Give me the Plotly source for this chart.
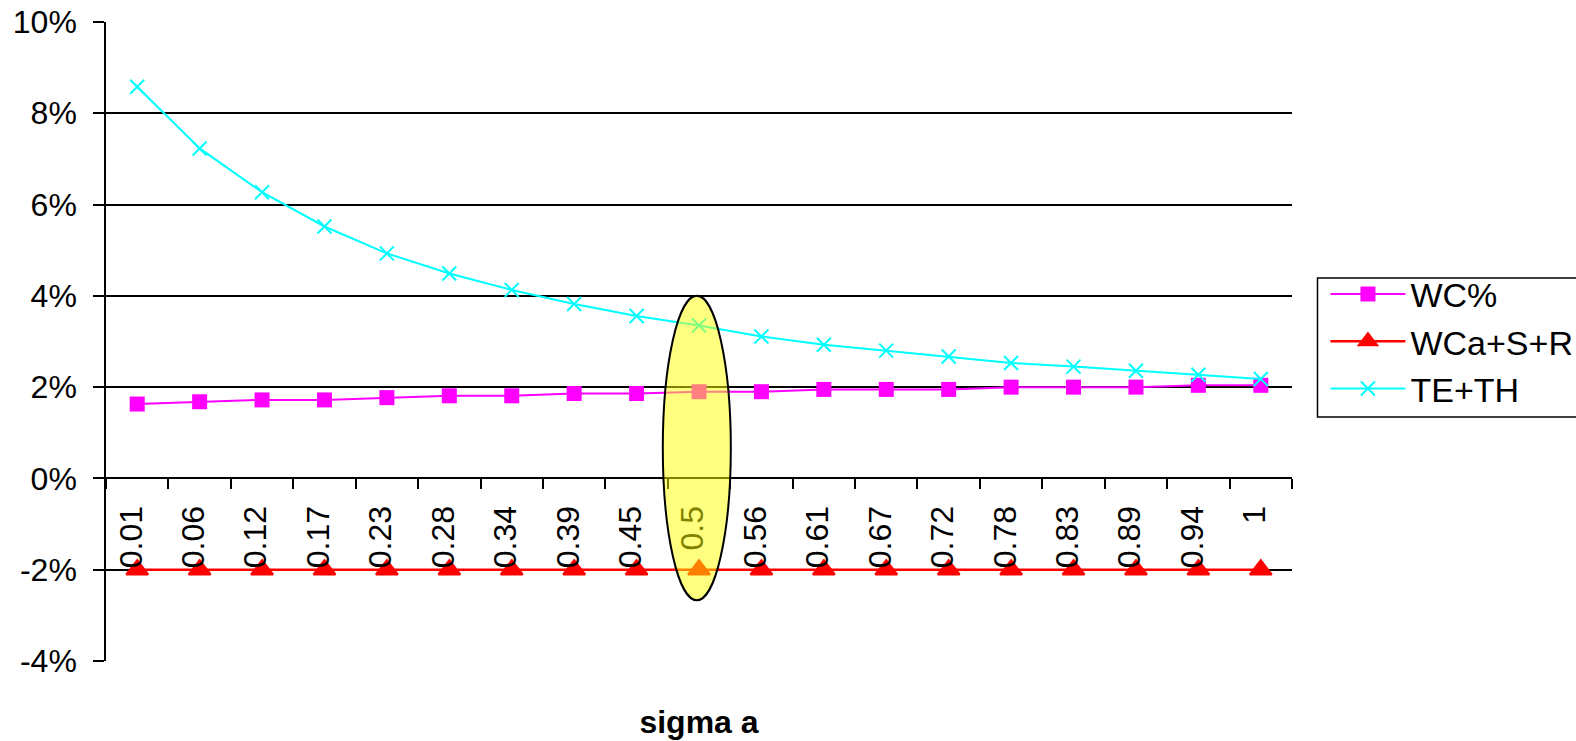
import plotly.graph_objects as go

# sigma a categories along the x axis
sigma_a = ["0.01", "0.06", "0.12", "0.17", "0.23", "0.28", "0.34", "0.39", "0.45", "0.5",
           "0.56", "0.61", "0.67", "0.72", "0.78", "0.83", "0.89", "0.94", "1"]

# series values (fractions, shown as percentages)
wc_pct = [0.0163, 0.0168, 0.0172, 0.0172, 0.0177, 0.0181, 0.0181, 0.0186, 0.0186, 0.0190,
          0.0190, 0.0195, 0.0195, 0.0195, 0.0200, 0.0200, 0.0200, 0.0204, 0.0204]
wca_s_r = [-0.02, -0.02, -0.02, -0.02, -0.02, -0.02, -0.02, -0.02, -0.02, -0.02,
           -0.02, -0.02, -0.02, -0.02, -0.02, -0.02, -0.02, -0.02, -0.02]
te_th = [0.0858, 0.0723, 0.0627, 0.0552, 0.0493, 0.0449, 0.0413, 0.0382, 0.0356, 0.0335,
         0.0311, 0.0293, 0.0280, 0.0267, 0.0253, 0.0245, 0.0236, 0.0227, 0.0218]

# y axis ticks (plain hyphen for negatives)
y_tick_vals = [-0.04, -0.02, 0.0, 0.02, 0.04, 0.06, 0.08, 0.10]
y_tick_text = ["-4%", "-2%", "0%", "2%", "4%", "6%", "8%", "10%"]

highlight = "0.5"

FONT = "Arial, 'Liberation Sans', sans-serif"

fig = go.Figure()
fig.add_trace(go.Scatter(
    x=sigma_a, y=wc_pct, name="WC%", mode="lines+markers", legendgroup="a",
    line=dict(color="#FF00FF", width=2),
    marker=dict(symbol="square", size=15, color="#FF00FF"),
))
fig.add_trace(go.Scatter(
    x=sigma_a, y=wca_s_r, name="WCa+S+R", mode="lines+markers", legendgroup="b",
    line=dict(color="#FF0000", width=2.5),
    marker=dict(symbol="triangle-up", size=19, color="#FF0000",
                line=dict(color="#FF0000", width=2)),
))
fig.add_trace(go.Scatter(
    x=sigma_a, y=te_th, name="TE+TH", mode="lines+markers", legendgroup="c",
    line=dict(color="#00FFFF", width=2),
    marker=dict(symbol="x-thin", size=14, color="#00FFFF",
                line=dict(color="#00FFFF", width=2)),
))

# translucent yellow ellipse around the highlighted category
hi = sigma_a.index(highlight)
fig.add_shape(
    type="circle", xref="x", yref="y",
    x0=hi - 0.58, x1=hi + 0.51, y0=-0.0267, y1=0.0400,
    fillcolor="rgba(255,255,0,0.5)", line=dict(color="black", width=2),
    layer="above",
)

# legend frame (runs off the right edge of the page)
fig.add_shape(
    type="rect", xref="paper", yref="paper",
    x0=1.0215, x1=1.25, y0=0.3818, y1=0.5994,
    fillcolor="white", line=dict(color="black", width=1.5),
    layer="below",
)

fig.update_layout(
    width=1576, height=741,
    margin=dict(l=105.5, r=283.5, t=22, b=80, autoexpand=False),
    paper_bgcolor="white", plot_bgcolor="white",
    font=dict(family=FONT, size=32, color="black"),
    showlegend=True,
    legend=dict(
        x=1.0282, xanchor="left", y=0.619, yanchor="top",
        bgcolor="rgba(0,0,0,0)", borderwidth=0,
        font=dict(family=FONT, size=34, color="black"),
        itemwidth=75, traceorder="grouped", tracegroupgap=0,
    ),
    xaxis=dict(
        type="category", anchor="free", position=4 / 14,
        range=[-0.5, len(sigma_a) - 0.5], automargin=False,
        showline=True, linecolor="black", linewidth=1.5,
        showgrid=False, zeroline=False,
        ticks="outside", tickson="boundaries", ticklen=10,
        tickcolor="black", tickwidth=1.5,
        tickangle=-90, tickfont=dict(size=32),
        ticklabelstandoff=14, ticklabelshift=-6,
        title=dict(text="<b>sigma a</b>", font=dict(size=32), standoff=142),
    ),
    yaxis=dict(
        range=[-0.04, 0.10], tickmode="array",
        tickvals=y_tick_vals, ticktext=y_tick_text, automargin=False,
        showline=True, linecolor="black", linewidth=1.5,
        showgrid=True, gridcolor="black", gridwidth=1.5,
        zeroline=False,
        ticks="outside", ticklen=11, tickcolor="black", tickwidth=1.5,
        tickfont=dict(size=32), ticklabelstandoff=10,
    ),
)

fig.write_html("out.html")
